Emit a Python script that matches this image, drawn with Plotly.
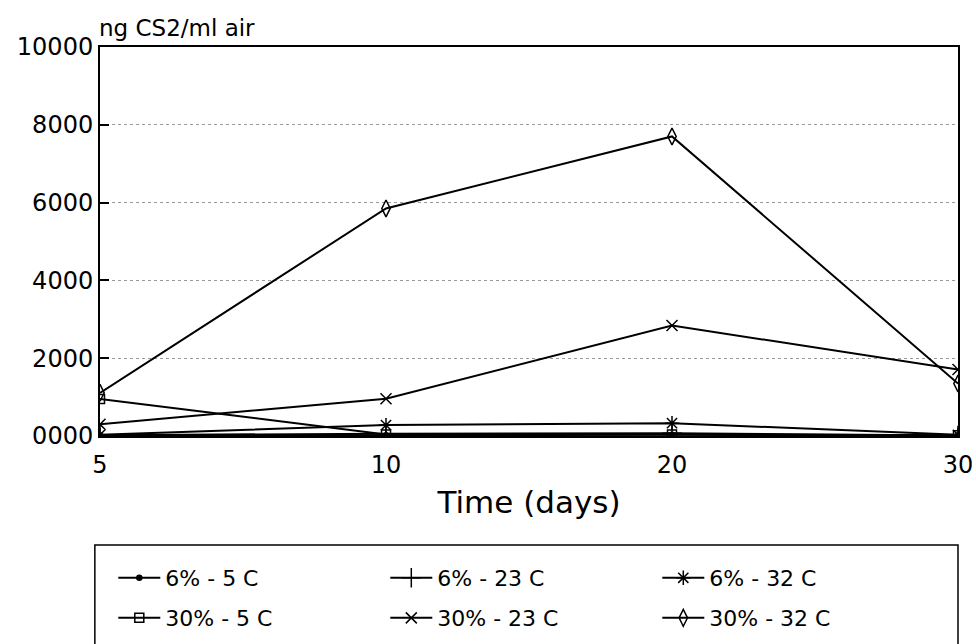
import plotly.graph_objects as go

days = ["5", "10", "20", "30"]
y_ticks = [0, 2000, 4000, 6000, 8000, 10000]
y_tick_text = ["0000", "2000", "4000", "6000", "8000", "10000"]

s6_5 = [10, 20, 30, 10]
s6_23 = [20, 60, 70, 10]
s6_32 = [30, 280, 330, 30]
s30_5 = [950, 40, 40, 20]
s30_23 = [300, 960, 2840, 1710]
s30_32 = [1110, 5850, 7700, 1350]

series = [
    ("6% - 5 C", s6_5, "circle", 5, "legend"),
    ("6% - 23 C", s6_23, "cross-thin-open", 14, "legend"),
    ("6% - 32 C", s6_32, "asterisk-open", 12, "legend"),
    ("30% - 5 C", s30_5, "square-open", 9, "legend2"),
    ("30% - 23 C", s30_23, "x-thin-open", 11, "legend2"),
    ("30% - 32 C", s30_32, "diamond-tall-open", 12, "legend2"),
]

FONT = "DejaVu Sans"

fig = go.Figure()
for name, vals, sym, size, leg in series:
    fig.add_trace(go.Scatter(
        x=days, y=vals, name=name, mode="lines+markers",
        line=dict(color="black", width=2),
        marker=dict(symbol=sym, size=size, color="black",
                    line=dict(color="black", width=1.5)),
        legend=leg,
    ))

legend_common = dict(
    orientation="h", entrywidth=215, entrywidthmode="pixels",
    itemwidth=42, font=dict(family=FONT, size=22, color="black"),
    bgcolor="rgba(0,0,0,0)", borderwidth=0,
    xanchor="left", yanchor="middle", x=0.0155,
)

fig.update_layout(
    width=976, height=644,
    margin=dict(l=100, r=18, t=47, b=208, autoexpand=False),
    paper_bgcolor="white", plot_bgcolor="white",
    font=dict(family=FONT, color="black"),
    showlegend=True,
    legend=dict(legend_common, y=-0.365),
    legend2=dict(legend_common, y=-0.468),
    xaxis=dict(
        type="category", categoryorder="array", categoryarray=days,
        range=[0, 3], showline=True, linecolor="black", linewidth=2,
        mirror=True, showgrid=False, ticks="", zeroline=False,
        automargin=False, ticklabelstandoff=6,
        tickfont=dict(family=FONT, size=24, color="black"),
        title=dict(text="Time (days)", font=dict(family=FONT, size=31, color="black"), standoff=14),
    ),
    yaxis=dict(
        range=[0, 10000], tickvals=y_ticks, ticktext=y_tick_text,
        showline=True, linecolor="black", linewidth=2, mirror=True,
        ticks="inside", ticklen=9, tickcolor="black", tickwidth=2,
        showgrid=True, gridcolor="#9a9a9a", griddash="dot", gridwidth=1,
        zeroline=False, automargin=False,
        tickfont=dict(family=FONT, size=24, color="black"),
    ),
    shapes=[dict(type="rect", xref="paper", yref="paper",
                 x0=-0.006, x1=1.0, y0=-0.62, y1=-0.28,
                 line=dict(color="black", width=1.5), fillcolor="rgba(0,0,0,0)")],
    annotations=[dict(text="ng CS2/ml air", xref="paper", yref="paper",
                      x=-0.004, y=1.0, xanchor="left", yanchor="bottom", yshift=4,
                      showarrow=False, font=dict(family=FONT, size=23, color="black"))],
)

fig.write_html("out.html")
